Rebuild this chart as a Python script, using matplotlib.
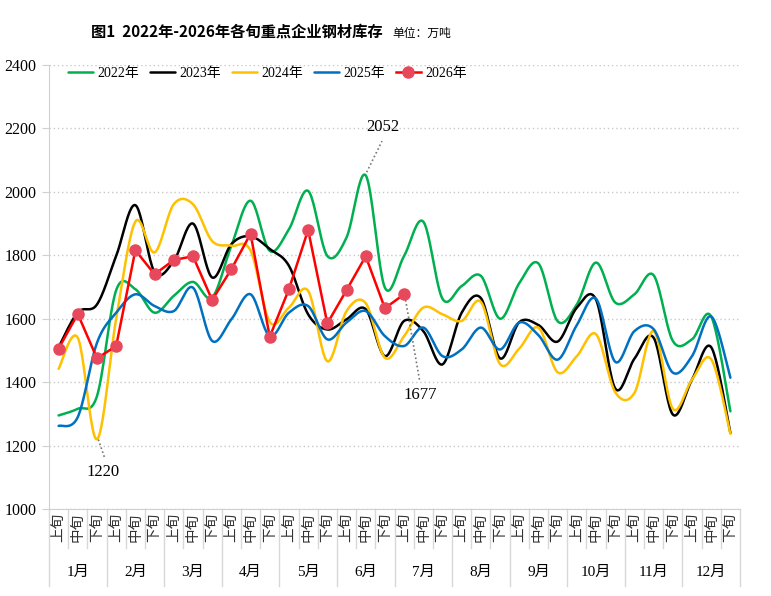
import numpy as np
import matplotlib.pyplot as plt
from matplotlib import transforms

# ---- data ----
months = ['1月', '2月', '3月', '4月', '5月', '6月', '7月', '8月', '9月', '10月', '11月', '12月']
dekads = ['上旬', '中旬', '下旬']

y2022 = [1295, 1316, 1356, 1690, 1693, 1619, 1672, 1716, 1667, 1830, 1972, 1814,
         1882, 2003, 1798, 1856, 2052, 1698, 1798, 1906, 1663, 1703, 1735, 1600,
         1712, 1774, 1592, 1645, 1777, 1651, 1677, 1737, 1530, 1535, 1607, 1308]
y2023 = [1510, 1620, 1645, 1798, 1958, 1747, 1782, 1900, 1730, 1835, 1860, 1820,
         1767, 1614, 1566, 1598, 1630, 1482, 1593, 1561, 1456, 1619, 1665, 1475,
         1589, 1580, 1528, 1635, 1660, 1380, 1474, 1540, 1298, 1408, 1510, 1240]
y2024 = [1442, 1540, 1220, 1600, 1906, 1809, 1961, 1961, 1845, 1830, 1815, 1590,
         1635, 1688, 1466, 1624, 1649, 1477, 1545, 1635, 1614, 1593, 1653, 1457,
         1506, 1572, 1431, 1482, 1551, 1368, 1366, 1561, 1316, 1408, 1472, 1237]
y2025 = [1262, 1290, 1524, 1619, 1677, 1640, 1624, 1698, 1530, 1598, 1677, 1545,
         1619, 1640, 1535, 1588, 1624, 1545, 1514, 1572, 1482, 1503, 1572, 1503,
         1588, 1548, 1471, 1580, 1663, 1464, 1561, 1567, 1430, 1482, 1607, 1414]
y2026 = [1506, 1615, 1475, 1514, 1816, 1740, 1785, 1797, 1659, 1756, 1868, 1543,
         1693, 1880, 1585, 1690, 1797, 1633, 1677]

series = [('2022年', y2022, '#00B050'), ('2023年', y2023, '#000000'),
          ('2024年', y2024, '#FFC000'), ('2025年', y2025, '#0070C0')]

serif = ['Liberation Serif', 'Noto Sans CJK SC']
cjk = ['Noto Sans CJK SC', 'DejaVu Sans']


def smooth(vals, n=24):
    # catmull-rom style bezier, like the office "smoothed line"
    y = np.asarray(vals, float)
    x = np.arange(len(y), dtype=float)
    px = np.concatenate([[x[0]], x, [x[-1]]])
    py = np.concatenate([[y[0]], y, [y[-1]]])
    t = np.linspace(0, 1, n)[:, None]
    xs, ys = [], []
    for i in range(1, len(px) - 2):
        p0 = np.array([px[i], py[i]])
        p3 = np.array([px[i + 1], py[i + 1]])
        c1 = p0 + (p3 - np.array([px[i - 1], py[i - 1]])) / 6
        c2 = p3 - (np.array([px[i + 2], py[i + 2]]) - p0) / 6
        pts = (1 - t) ** 3 * p0 + 3 * (1 - t) ** 2 * t * c1 + 3 * (1 - t) * t ** 2 * c2 + t ** 3 * p3
        xs.append(pts[:, 0])
        ys.append(pts[:, 1])
    return np.concatenate(xs), np.concatenate(ys)


fig = plt.figure(figsize=(7.71, 5.96), dpi=100)
ax = fig.add_axes([49 / 771, 87 / 596, 691 / 771, 444 / 596])

for name, vals, col in series:
    sx, sy = smooth(vals)
    ax.plot(sx, sy, color=col, lw=1.8, label=name, solid_capstyle='round')

ax.plot(range(len(y2026)), y2026, color='#FF0000', lw=1.8, marker='o', ms=8,
        mfc='#E8485C', mec='#E8485C', label='2026年', zorder=5)

ax.set_xlim(-0.5, 35.5)
ax.set_ylim(1000, 2400)
ax.set_yticks(range(1000, 2401, 200))
ax.yaxis.grid(True, ls=(0, (1, 2)), color='#c8c8c8', lw=1)
ax.set_axisbelow(True)
for s in ['top', 'right']:
    ax.spines[s].set_visible(False)
for s in ['left', 'bottom']:
    ax.spines[s].set_color('#d0d0d0')
ax.tick_params(axis='y', length=5, color='#d0d0d0', labelsize=11.5, pad=4)
for lab in ax.get_yticklabels():
    lab.set_fontfamily(serif)

# category axis: dekad labels + month labels with separators
ax.set_xticks(range(36))
ax.set_xticklabels(dekads * 12, rotation=90, fontsize=10.5, family=cjk, color='#333333')
ax.tick_params(axis='x', length=0, pad=3)
trans = transforms.blended_transform_factory(ax.transData, ax.transAxes)
for k in range(37):
    bottom = -0.173 if k % 3 == 0 else -0.088
    ax.plot([k - 0.5, k - 0.5], [0, bottom], transform=trans, color='#d8d8d8',
            lw=1, clip_on=False)
for m, name in enumerate(months):
    ax.text(3 * m + 1, -0.142, name, transform=trans, ha='center', va='center',
            fontsize=11, family=serif)

# annotations
ax.plot([16.05, 16.85], [2062, 2160], ls=(0, (1, 1.5)), color='#777777', lw=1.2)
ax.text(16.9, 2205, '2052', ha='center', va='center', fontsize=12, family=serif)
ax.plot([2.07, 2.4], [1219, 1161], ls=(0, (1, 1.5)), color='#777777', lw=1.2)
ax.text(2.3, 1118, '1220', ha='center', va='center', fontsize=12, family=serif)
ax.plot([18.04, 18.8], [1672, 1408], ls=(0, (1, 1.5)), color='#777777', lw=1.2)
ax.text(18.82, 1358, '1677', ha='center', va='center', fontsize=12, family=serif)

leg = fig.legend(loc='center left', bbox_to_anchor=(0.088, 1 - 73 / 596), ncol=5,
                 frameon=False, prop={'family': serif, 'size': 10},
                 handlelength=1.8, columnspacing=0.75, handletextpad=0.35,
                 borderaxespad=0, borderpad=0)

fig.text(237 / 771, 1 - 32 / 596, '图1  2022年-2026年各旬重点企业钢材库存', ha='center',
         va='center', fontsize=11, family=cjk, fontweight='bold')
fig.text(422 / 771, 1 - 33 / 596, '单位：万吨', ha='center', va='center',
         fontsize=8.5, family=cjk)

fig.savefig('out.png', dpi=100)
